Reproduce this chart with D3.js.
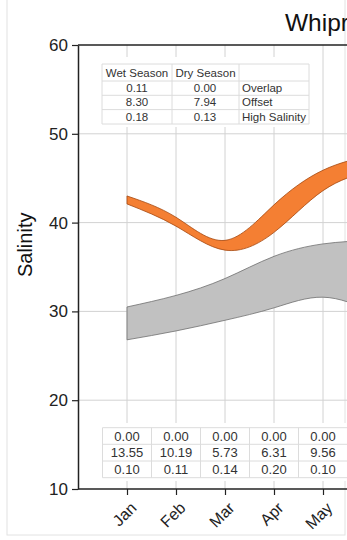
<!DOCTYPE html>
<html>
<head>
<meta charset="utf-8">
<script src="https://cdn.jsdelivr.net/npm/d3@7"></script>
<style>
  body { margin: 0; background: #fff; }
  svg { display: block; font-family: "Liberation Sans", Arial, sans-serif; }
</style>
</head>
<body>
<div id="chart"></div>
<script>
// band values per month (Jan..Jun), Jun only shapes the curve at the cut edge
const months = ["Jan", "Feb", "Mar", "Apr", "May", "Jun"];
const wetHigh = [43.0, 40.6, 38.0, 42.0, 45.9, 47.6];
const wetLow = [42.1, 39.6, 36.9, 38.9, 43.6, 45.9];
const dryHigh = [30.5, 31.8, 33.7, 36.2, 37.6, 38.0];
const dryLow = [26.8, 27.8, 29.0, 30.4, 31.6, 30.0];
const yTicks = [10, 20, 30, 40, 50, 60];

// summary table, top left
const summaryHeader = ["Wet Season", "Dry Season", ""];
const summaryWet = ["0.11", "8.30", "0.18"];
const summaryDry = ["0.00", "7.94", "0.13"];
const summaryNames = ["Overlap", "Offset", "High Salinity"];

// monthly table, bottom
const monthOverlap = ["0.00", "0.00", "0.00", "0.00", "0.00"];
const monthOffset = ["13.55", "10.19", "5.73", "6.31", "9.56"];
const monthHigh = ["0.10", "0.11", "0.14", "0.20", "0.10"];

const width = 347;
const height = 540;
const left = 78;
const monthStep = 49;

const svg = d3.select("#chart").append("svg")
  .attr("width", width)
  .attr("height", height);

const x = d3.scaleLinear().domain([0, 13]).range([left, left + 13 * monthStep]);
const y = d3.scaleLinear().domain([10, 60]).range([489, 45]);

// frame round the picture
svg.append("rect")
  .attr("x", 7).attr("y", -2)
  .attr("width", 338).attr("height", 537)
  .attr("fill", "none")
  .attr("stroke", "#e2e2e2");

svg.append("text")
  .attr("x", 285).attr("y", 31)
  .attr("font-size", 24.5)
  .attr("fill", "#111")
  .text("Whipray Basin");

// grid
const monthIdx = months.map((d, i) => i + 1);
const shownIdx = monthOffset.map((d, i) => i + 1);
svg.append("g").selectAll("line")
  .data(monthIdx)
  .join("line")
  .attr("x1", d => x(d)).attr("x2", d => x(d))
  .attr("y1", y(60)).attr("y2", y(10))
  .attr("stroke", "#d2d2d2");
svg.append("g").selectAll("line")
  .data(yTicks.slice(1, -1))
  .join("line")
  .attr("x1", left).attr("x2", width)
  .attr("y1", d => y(d)).attr("y2", d => y(d))
  .attr("stroke", "#d2d2d2");

// bands
function drawBand(high, low, fill, stroke) {
  const area = d3.area()
    .x((d, i) => x(i + 1))
    .y0((d, i) => y(low[i]))
    .y1((d, i) => y(high[i]))
    .curve(d3.curveNatural);
  svg.append("path")
    .datum(high)
    .attr("d", area)
    .attr("fill", fill)
    .attr("stroke", stroke)
    .attr("stroke-width", 0.8);
}
drawBand(dryHigh, dryLow, "#c1c1c1", "#6e6e6e");
drawBand(wetHigh, wetLow, "#f47f33", "#a4480f");

// top summary table
const sCols = [102, 172, 239, 309];
const sRows = [64, 81, 95.3, 109.6, 124];
const sTable = svg.append("g").attr("font-size", 11.5).attr("fill", "#333");
sTable.append("rect")
  .attr("x", 96).attr("y", 57)
  .attr("width", 219).attr("height", 70)
  .attr("fill", "#fff");
sRows.forEach(r => sTable.append("line")
  .attr("x1", sCols[0]).attr("x2", sCols[3]).attr("y1", r).attr("y2", r)
  .attr("stroke", "#dcdcdc"));
sCols.forEach(c => sTable.append("line")
  .attr("x1", c).attr("x2", c).attr("y1", sRows[0]).attr("y2", sRows[4])
  .attr("stroke", "#dcdcdc"));
summaryHeader.forEach((t, i) => sTable.append("text")
  .attr("x", (sCols[i] + sCols[i + 1]) / 2)
  .attr("y", (sRows[0] + sRows[1]) / 2)
  .attr("dy", "0.35em")
  .attr("text-anchor", "middle")
  .text(t));
summaryNames.forEach((name, i) => {
  const cy = (sRows[i + 1] + sRows[i + 2]) / 2;
  sTable.append("text").attr("x", 137).attr("y", cy).attr("dy", "0.35em")
    .attr("text-anchor", "middle").text(summaryWet[i]);
  sTable.append("text").attr("x", 205).attr("y", cy).attr("dy", "0.35em")
    .attr("text-anchor", "middle").text(summaryDry[i]);
  sTable.append("text").attr("x", 242).attr("y", cy).attr("dy", "0.35em")
    .text(name);
});

// bottom monthly table
const mRows = [427.7, 444.3, 461, 477.7];
const mTable = svg.append("g").attr("font-size", 13).attr("fill", "#333");
mTable.append("rect")
  .attr("x", 98).attr("y", 423)
  .attr("width", width - 98).attr("height", 58)
  .attr("fill", "#fff");
mRows.forEach(r => mTable.append("line")
  .attr("x1", x(0.5)).attr("x2", width).attr("y1", r).attr("y2", r)
  .attr("stroke", "#dcdcdc"));
monthIdx.forEach(d => mTable.append("line")
  .attr("x1", x(d - 0.5)).attr("x2", x(d - 0.5))
  .attr("y1", mRows[0]).attr("y2", mRows[3])
  .attr("stroke", "#dcdcdc"));
[monthOverlap, monthOffset, monthHigh].forEach((row, r) => {
  mTable.selectAll(null)
    .data(row)
    .join("text")
    .attr("x", (d, i) => x(i + 1))
    .attr("y", (mRows[r] + mRows[r + 1]) / 2)
    .attr("dy", "0.35em")
    .attr("text-anchor", "middle")
    .text(d => d);
});

// axes
const yAxis = svg.append("g")
  .attr("transform", `translate(${left},0)`)
  .call(d3.axisLeft(y).tickValues(yTicks).tickSize(6).tickSizeOuter(0).tickPadding(4));
yAxis.selectAll("text").attr("font-size", 17).attr("fill", "#222");

const xAxis = svg.append("g")
  .attr("transform", `translate(0,${y(10)})`)
  .call(d3.axisBottom(x).tickValues(shownIdx).tickFormat(d => months[d - 1])
    .tickSize(6).tickSizeOuter(0));
xAxis.select(".domain").attr("d", `M${left},0H${width}`);
xAxis.selectAll("text")
  .attr("font-size", 16)
  .attr("fill", "#222")
  .attr("text-anchor", "end")
  .attr("y", 0)
  .attr("dy", "0.35em")
  .attr("transform", "translate(6,16) rotate(-45)");

[yAxis, xAxis].forEach(g => {
  g.select(".domain").attr("stroke", "#222").attr("stroke-width", 1.5);
  g.selectAll(".tick line").attr("stroke", "#222").attr("stroke-width", 1.2);
});

// top border of the plot
svg.append("line")
  .attr("x1", left).attr("x2", width)
  .attr("y1", y(60)).attr("y2", y(60))
  .attr("stroke", "#222").attr("stroke-width", 1.5);

svg.append("text")
  .attr("transform", `translate(25,${y(37.5)}) rotate(-90)`)
  .attr("text-anchor", "middle")
  .attr("dy", "0.35em")
  .attr("font-size", 20)
  .attr("fill", "#111")
  .text("Salinity");
</script>
</body>
</html>
